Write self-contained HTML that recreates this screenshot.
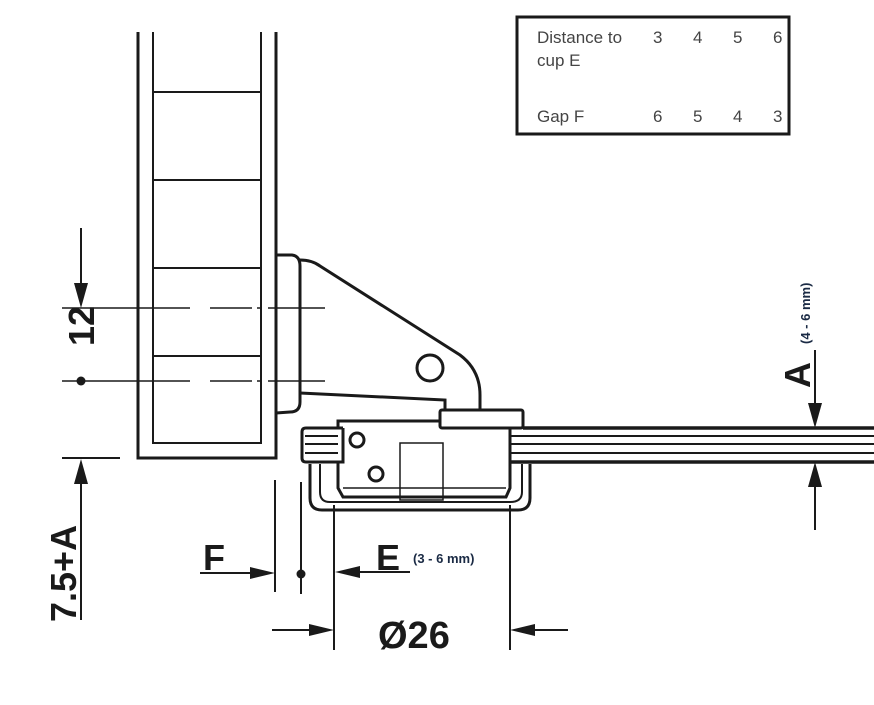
<!DOCTYPE html>
<html><head><style>body{margin:0;background:#fff}svg{display:block}</style></head><body>
<svg width="874" height="705" viewBox="0 0 874 705" xmlns="http://www.w3.org/2000/svg" font-family="Liberation Sans, sans-serif">
<g fill="none" stroke="#1a1a1a">
<path d="M138 32V458H276V32" stroke-width="3"/>
<path d="M153 32V443H261V32" stroke-width="2"/>
<path d="M153 92H261M153 180H261M153 268H261M153 356H261" stroke-width="2"/>
<path d="M62 308H190M210 308H252M257 308H261M268 308H325M62 381H190M210 381H252M257 381H261M268 381H325" stroke-width="1.5"/>
<path d="M276 255H292Q300 256 300 266V402Q300 412 290 412L276 413" stroke-width="3"/>
<path d="M300 260Q312 260 320 266L460 355Q480 370 480 395V410" stroke-width="3"/>
<path d="M300 393L445 400V410" stroke-width="3"/>
<circle cx="430" cy="368" r="13" stroke-width="3"/>
<rect x="440" y="410" width="83" height="18" rx="2" stroke-width="3"/>
<path d="M338 428V421H440" stroke-width="3"/>
<path d="M523 428H874M510 462H874" stroke-width="3.5"/>
<path d="M510 436H874M510 444H874M510 453H874" stroke-width="2"/>
<path d="M343 428H306Q302 428 302 432V458Q302 462 306 462H343" stroke-width="3"/>
<path d="M305 436H338M305 444H338M305 453H338" stroke-width="2"/>
<path d="M343 428V462H338" stroke-width="3"/>
<path d="M338 462V488L343 497H506L510 488V428" stroke-width="3"/>
<path d="M343 488H506" stroke-width="1.5"/>
<rect x="400" y="443" width="43" height="57" stroke-width="1.5"/>
<circle cx="357" cy="440" r="7" stroke-width="3"/>
<circle cx="376" cy="474" r="7" stroke-width="3"/>
<path d="M310 464V498Q310 510 322 510H518Q530 510 530 498V464" stroke-width="3"/>
<path d="M320 464V492Q320 502 330 502H510Q522 502 522 492V464" stroke-width="2"/>
<path d="M81 228V300" stroke-width="2"/>
<path d="M62 458H120" stroke-width="2"/>
<path d="M81 465V620" stroke-width="2"/>
<path d="M275 480V592M301 482V594" stroke-width="2"/>
<path d="M200 573H262" stroke-width="2"/>
<path d="M334 505V650M510 505V650" stroke-width="2"/>
<path d="M345 572H410" stroke-width="2"/>
<path d="M272 630H320M524 630H568" stroke-width="2"/>
<path d="M815 350V415M815 476V530" stroke-width="2"/>
<path d="M776 428H834M776 462H834" stroke-width="2"/>
</g>
<g fill="#1a1a1a">
<path d="M74 283L88 283L81 308Z"/>
<circle cx="81" cy="381" r="4.5"/>
<path d="M74 484L88 484L81 459Z"/>
<path d="M250 567L250 579L275 573Z"/>
<circle cx="301" cy="574" r="4.5"/>
<path d="M360 566L360 578L335 572Z"/>
<path d="M309 624L309 636L334 630Z"/>
<path d="M535 624L535 636L510 630Z"/>
<path d="M808 403L822 403L815 428Z"/>
<path d="M808 487L822 487L815 462Z"/>
</g>
<g font-weight="bold" fill="#1a1a1a">
<text x="0" y="0" font-size="36" transform="translate(94,346) rotate(-90)">12</text>
<text x="0" y="0" font-size="36" transform="translate(76,622) rotate(-90)">7.5+A</text>
<text x="203" y="570" font-size="36">F</text>
<text x="376" y="570" font-size="36">E</text>
<text x="413" y="563" font-size="13" fill="#1a2a44">(3 - 6 mm)</text>
<text x="378" y="648" font-size="38">Ø26</text>
<text x="0" y="0" font-size="36" transform="translate(810,388) rotate(-90)">A</text>
<text x="0" y="0" font-size="13" fill="#1a2a44" transform="translate(810,344) rotate(-90)">(4 - 6 mm)</text>
</g>
<rect x="517" y="17" width="272" height="117" fill="none" stroke="#1a1a1a" stroke-width="3"/>
<g font-size="17" fill="#444">
<text x="537" y="43">Distance to</text><text x="537" y="66">cup E</text>
<text x="653" y="43">3</text><text x="693" y="43">4</text><text x="733" y="43">5</text><text x="773" y="43">6</text>
<text x="537" y="122">Gap F</text>
<text x="653" y="122">6</text><text x="693" y="122">5</text><text x="733" y="122">4</text><text x="773" y="122">3</text>
</g>
</svg>
</body></html>
